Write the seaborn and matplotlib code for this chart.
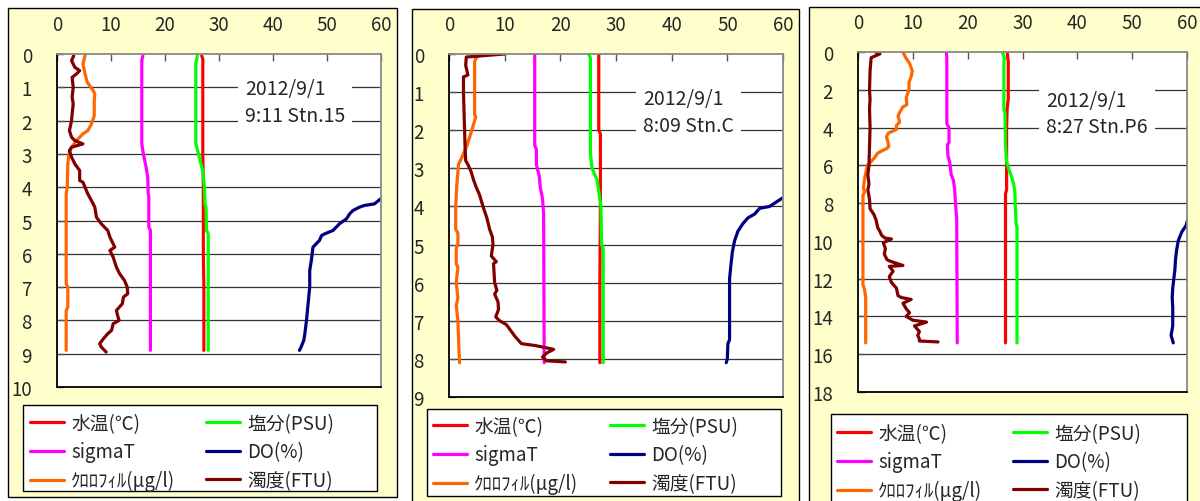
import numpy as np
import pandas as pd
import matplotlib
matplotlib.use("Agg")
import matplotlib.pyplot as plt
from matplotlib.patches import Rectangle
from matplotlib.lines import Line2D
import seaborn as sns

# ---------------- data ----------------
var_names = ["水温(℃)", "sigmaT", "ｸﾛﾛﾌｨﾙ(μg/l)", "塩分(PSU)", "DO(%)", "濁度(FTU)"]
var_colors = ["#FF0000", "#FF00FF", "#FF6600", "#00FF00", "#000080", "#800000"]

# Stn.15
s15_temp_d = [0.05, 0.15, 1.0, 2.0, 3.0, 4.0, 5.0, 6.0, 7.0, 8.0, 8.9]
s15_temp_v = [26.8, 27.0, 27.0, 27.0, 27.0, 27.1, 27.1, 27.1, 27.2, 27.2, 27.2]
s15_sal_d = [0.05, 0.3, 2.7, 3.0, 3.2, 3.5, 4.0, 4.5, 4.6, 5.3, 5.4, 8.9]
s15_sal_v = [26.0, 25.7, 25.7, 26.2, 26.5, 27.0, 27.3, 27.4, 27.6, 27.7, 28.0, 28.0]
s15_sig_d = [0.05, 0.2, 2.7, 3.0, 3.4, 3.7, 4.2, 4.3, 5.2, 5.3, 8.9]
s15_sig_v = [15.9, 15.7, 15.7, 16.0, 16.5, 16.8, 16.9, 17.0, 17.0, 17.3, 17.3]
s15_chl_d = [0.05, 0.3, 0.6, 0.85, 1.1, 1.2, 1.4, 1.85, 2.1, 2.3, 2.4, 2.6, 2.8, 3.0,
             3.3, 4.0, 4.2, 6.9, 7.0, 7.6, 7.7, 8.9]
s15_chl_v = [5.2, 4.8, 5.2, 5.6, 6.7, 7.0, 6.9, 6.9, 6.4, 5.7, 4.8, 3.6, 2.7, 2.2,
             2.0, 1.9, 1.7, 1.7, 2.0, 2.0, 1.7, 1.7]
s15_do_d = [4.3, 4.5, 4.55, 4.6, 4.7, 4.8, 4.95, 5.1, 5.3, 5.4, 5.45, 5.6, 5.8, 6.2,
            6.5, 7.0, 7.5, 8.0, 8.4, 8.6, 8.8, 8.9]
s15_do_v = [60.3, 58.8, 56.9, 56.0, 54.8, 54.2, 53.6, 52.3, 51.1, 49.6, 49.0, 48.6,
            47.4, 47.1, 46.8, 46.8, 46.5, 46.2, 45.9, 45.7, 45.2, 44.9]
s15_turb_d = [0.05, 0.2, 0.4, 0.5, 0.6, 0.7, 1.0, 1.3, 1.5, 1.8, 2.0, 2.3, 2.5, 2.6,
              2.7, 2.8, 2.9, 3.1, 3.3, 3.5, 3.8, 3.85, 4.2, 4.5, 4.6, 4.9, 5.1, 5.3,
              5.5, 5.8, 5.9, 6.1, 6.4, 6.6, 6.8, 7.0, 7.2, 7.3, 7.5, 7.7, 7.9, 8.0,
              8.1, 8.3, 8.4, 8.55, 8.7, 8.8, 8.95]
s15_turb_v = [3.1, 2.7, 3.3, 4.2, 3.6, 2.8, 3.0, 2.8, 3.0, 2.8, 2.7, 2.3, 2.7, 3.3,
              4.8, 2.7, 2.3, 2.7, 3.3, 4.2, 4.2, 4.8, 5.7, 6.7, 7.0, 7.3, 8.2, 9.4,
              9.8, 10.7, 9.8, 10.4, 11.0, 11.6, 12.5, 13.0, 13.1, 12.3, 12.1, 11.0,
              11.3, 11.5, 10.4, 10.1, 9.4, 8.6, 7.9, 8.2, 9.1]

# Stn.C
sC_temp_d = [0.0, 1.0, 2.0, 2.1, 4.0, 6.0, 8.1]
sC_temp_v = [26.9, 26.9, 26.9, 27.2, 27.2, 27.1, 27.1]
sC_sal_d = [0.0, 0.1, 2.6, 3.0, 3.3, 3.6, 3.9, 4.0, 5.0, 5.1, 8.1]
sC_sal_v = [25.1, 25.4, 25.4, 25.7, 26.6, 26.9, 27.2, 27.3, 27.4, 27.7, 27.7]
sC_sig_d = [0.0, 2.4, 2.5, 2.9, 3.2, 3.5, 3.8, 4.2, 8.1]
sC_sig_v = [15.4, 15.4, 15.7, 15.7, 16.2, 16.4, 16.8, 17.0, 17.1]
sC_chl_d = [0.0, 0.1, 0.2, 1.6, 1.65, 2.05, 2.45, 2.75, 2.9, 3.1, 3.45, 4.0, 4.6,
            4.7, 5.0, 5.1, 5.5, 5.6, 6.0, 6.4, 6.6, 7.0, 7.8, 8.1]
sC_chl_v = [5.6, 4.9, 4.6, 4.6, 4.8, 4.0, 3.1, 2.2, 1.7, 1.6, 1.4, 1.2, 1.2, 1.6,
            1.6, 1.3, 1.3, 1.6, 1.3, 1.6, 1.3, 1.6, 1.8, 1.9]
sC_do_d = [3.75, 4.0, 4.05, 4.2, 4.3, 4.45, 4.65, 4.9, 5.2, 5.6, 5.9, 6.5, 7.5, 7.6,
           8.0, 8.1]
sC_do_v = [60.2, 57.6, 55.8, 54.9, 53.7, 52.8, 51.9, 51.3, 50.9, 50.6, 50.4, 50.4,
           50.4, 50.1, 50.0, 49.8]
sC_turb_d = [0.0, 0.08, 0.3, 0.55, 0.6, 1.0, 1.5, 2.0, 2.5, 2.8, 2.9, 3.1, 3.3, 3.5,
             3.7, 4.0, 4.3, 4.6, 4.8, 5.0, 5.3, 5.45, 5.5, 6.0, 6.2, 6.3, 6.5, 6.7,
             6.9, 7.0, 7.1, 7.2, 7.4, 7.5, 7.6, 7.65, 7.75, 7.85, 7.95, 8.05, 8.08]
sC_turb_v = [10.0, 3.1, 3.0, 3.4, 2.6, 2.6, 2.7, 2.8, 2.9, 3.0, 3.4, 4.0, 4.4, 4.9,
             5.5, 6.1, 6.8, 7.3, 7.8, 7.9, 7.6, 8.5, 8.0, 8.2, 8.6, 8.2, 8.8, 8.9,
             8.4, 9.1, 10.3, 10.8, 11.8, 12.4, 13.0, 15.5, 18.8, 17.5, 16.8, 17.5,
             20.9]

# Stn.P6
sP_temp_d = [0.0, 0.5, 2.5, 3.0, 4.0, 6.0, 7.3, 7.5, 15.4]
sP_temp_v = [27.2, 27.4, 27.4, 27.2, 27.1, 27.1, 27.1, 26.9, 26.9]
sP_sal_d = [0.0, 0.3, 0.6, 3.0, 3.2, 5.0, 5.8, 6.2, 6.6, 7.0, 7.4, 9.0, 9.3, 15.4]
sP_sal_v = [26.3, 26.7, 26.6, 26.6, 26.8, 26.9, 27.1, 27.5, 28.0, 28.4, 28.6, 28.8,
            29.0, 29.0]
sP_sig_d = [0.0, 0.3, 3.8, 4.0, 4.8, 4.9, 5.5, 5.8, 6.5, 6.8, 7.2, 8.5, 8.8, 15.4]
sP_sig_v = [16.1, 16.2, 16.2, 16.6, 16.6, 16.3, 16.4, 16.7, 17.0, 17.4, 17.6, 17.9,
            18.0, 18.1]
sP_chl_d = [0.0, 0.3, 0.6, 1.0, 1.3, 1.6, 2.0, 2.4, 2.8, 2.9, 3.2, 3.4, 3.7, 3.9, 4.1,
            4.3, 4.5, 4.8, 5.0, 5.1, 5.2, 5.35, 5.6, 5.8, 6.0, 6.3, 6.7, 7.2, 7.4,
            7.6, 12.3, 12.6, 13.0, 15.4]
sP_chl_v = [8.2, 8.7, 9.4, 9.9, 9.7, 9.3, 9.3, 8.8, 8.9, 8.2, 7.6, 7.3, 7.6, 7.0, 7.0,
            5.5, 5.2, 5.5, 5.6, 5.3, 4.6, 3.6, 3.0, 2.4, 1.7, 1.5, 1.2, 1.0, 1.2,
            0.9, 0.9, 1.2, 1.4, 1.4]
sP_do_d = [8.9, 9.2, 9.5, 9.7, 10.0, 10.5, 11.0, 11.5, 12.0, 12.5, 13.0, 13.5, 14.0,
           14.5, 15.0, 15.4]
sP_do_v = [60.1, 59.8, 59.1, 58.8, 58.4, 58.1, 57.9, 57.8, 57.6, 57.4, 57.3, 57.4,
           57.4, 57.4, 57.1, 57.5]
sP_turb_d = [0.0, 0.1, 0.2, 0.3, 1.0, 2.0, 2.5, 3.0, 4.0, 5.0, 6.0, 6.5, 7.0, 7.3,
             7.8, 8.3, 8.6, 8.9, 9.3, 9.5, 9.7, 9.85, 9.9, 10.1, 10.4, 10.7, 11.0,
             11.1, 11.3, 11.35, 11.6, 11.9, 12.2, 12.5, 12.9, 13.0, 13.1, 13.3, 13.6,
             13.8, 14.0, 14.2, 14.3, 14.5, 14.8, 15.0, 15.2, 15.3, 15.35]
sP_turb_v = [3.2, 4.0, 3.2, 2.4, 2.2, 2.1, 2.2, 2.1, 2.2, 2.1, 2.0, 1.8, 2.0, 1.8,
             2.1, 2.2, 2.9, 3.3, 3.6, 4.0, 4.3, 4.9, 6.1, 4.6, 5.0, 4.8, 5.3, 6.1,
             8.2, 5.7, 6.4, 5.7, 6.1, 7.0, 7.3, 7.9, 9.7, 8.2, 8.8, 9.4, 8.8, 10.0,
             12.5, 10.3, 11.2, 10.9, 11.2, 11.2, 14.6]

station_labels = ["2012/9/1\n9:11 Stn.15", "2012/9/1\n8:09 Stn.C", "2012/9/1\n8:27 Stn.P6"]
depth_max = [10, 9, 18]
depth_step = [1, 1, 2]
x_ticks = [0, 10, 20, 30, 40, 50, 60]

stations = [
    [(s15_temp_d, s15_temp_v), (s15_sig_d, s15_sig_v), (s15_chl_d, s15_chl_v),
     (s15_sal_d, s15_sal_v), (s15_do_d, s15_do_v), (s15_turb_d, s15_turb_v)],
    [(sC_temp_d, sC_temp_v), (sC_sig_d, sC_sig_v), (sC_chl_d, sC_chl_v),
     (sC_sal_d, sC_sal_v), (sC_do_d, sC_do_v), (sC_turb_d, sC_turb_v)],
    [(sP_temp_d, sP_temp_v), (sP_sig_d, sP_sig_v), (sP_chl_d, sP_chl_v),
     (sP_sal_d, sP_sal_v), (sP_do_d, sP_do_v), (sP_turb_d, sP_turb_v)],
]

# ---------------- style ----------------
sns.set_style("white")
FONTS = ["Noto Sans CJK JP", "DejaVu Sans"]
plt.rcParams["font.family"] = FONTS

W, H = 1200, 502
fig = plt.figure(figsize=(W / 100, H / 100), dpi=100)


def fx(px):
    return px / W


def fy(py):
    return 1 - py / H


# layout (pixels)
outer_boxes = [(8, 9, 397, 498), (412, 10, 799, 512), (809, 8, 1210, 512)]
plot_boxes = [(57, 55, 381, 388), (449, 55, 783, 398), (858, 53, 1187, 393)]
legend_boxes = [(23, 406, 377, 492), (427, 410, 781, 497), (831, 415, 1187, 512)]
legend_cols = [(30, 206, 453), (433, 610, 456), (837, 1013, 463)]
text_pos = [(34.8, 1.45), (34.9, 1.52), (34.3, 3.25)]

for (x0, y0, x1, y1) in outer_boxes:
    fig.patches.append(Rectangle((fx(x0), fy(y1)), fx(x1) - fx(x0), fy(y0) - fy(y1),
                                 transform=fig.transFigure, facecolor="#FFFFCC",
                                 edgecolor="black", linewidth=1.0, zorder=-2))
for (x0, y0, x1, y1) in legend_boxes:
    fig.patches.append(Rectangle((fx(x0), fy(y1)), fx(x1) - fx(x0), fy(y0) - fy(y1),
                                 transform=fig.transFigure, facecolor="white",
                                 edgecolor="black", linewidth=1.0, zorder=1))

palette = dict(zip(var_names, var_colors))

for i, st in enumerate(stations):
    x0, y0, x1, y1 = plot_boxes[i]
    ax = fig.add_axes([fx(x0), fy(y1), fx(x1) - fx(x0), fy(y0) - fy(y1)])
    ax.set_facecolor("white")
    rows = []
    for name, (d, v) in zip(var_names, st):
        rows.append(pd.DataFrame({"depth": d, "value": v, "var": name}))
    df = pd.concat(rows, ignore_index=True)
    sns.lineplot(data=df, x="value", y="depth", hue="var", palette=palette,
                 hue_order=var_names, sort=False, estimator=None, orient="y",
                 linewidth=2.3, legend=False, ax=ax)
    ax.set_xlim(0, 60)
    ax.set_ylim(depth_max[i], 0)
    ax.set_xticks(x_ticks)
    yt = np.arange(0, depth_max[i] + 0.01, depth_step[i])
    ax.set_yticks(yt)
    ax.set_yticklabels([str(int(t)) for t in yt])
    ax.xaxis.tick_top()
    ax.tick_params(axis="x", top=True, bottom=False, direction="in", length=5,
                   width=1, color="#555555", pad=14, labelsize=13.5)
    ax.tick_params(axis="y", left=True, direction="in", length=5, width=1,
                   color="#555555", pad=18, labelsize=13.5)
    ax.set_xlabel("")
    ax.set_ylabel("")
    ax.grid(False)
    for t in yt[1:-1]:
        ax.axhline(t, color="#333333", linewidth=0.9, zorder=0.5)
    for side in ["left", "bottom"]:
        ax.spines[side].set_color("black")
        ax.spines[side].set_linewidth(1.3)
    for side in ["top", "right"]:
        ax.spines[side].set_color("#888888")
        ax.spines[side].set_linewidth(1.3)
    tx, ty = text_pos[i]
    ax.text(tx, ty, station_labels[i], fontsize=14, va="center", ha="left",
            linespacing=1.35, zorder=3,
            bbox=dict(boxstyle="square,pad=0.35", facecolor="white", edgecolor="none"))

    # legend, two columns
    c1, c2, ymid = legend_cols[i]
    handles = [Line2D([0], [0], color=c, linewidth=2.3) for c in var_colors]
    for col, cx in enumerate([c1, c2]):
        hs = handles[col * 3:(col + 1) * 3]
        ls = var_names[col * 3:(col + 1) * 3]
        leg = fig.legend(hs, ls, loc="center left", bbox_to_anchor=(fx(cx), fy(ymid)),
                         frameon=False, borderpad=0, borderaxespad=0,
                         handlelength=1.8, handletextpad=0.4, labelspacing=0.4,
                         prop={"family": FONTS, "size": 13.5})
        leg.set_zorder(5)

fig.savefig("out.png", dpi=100)
